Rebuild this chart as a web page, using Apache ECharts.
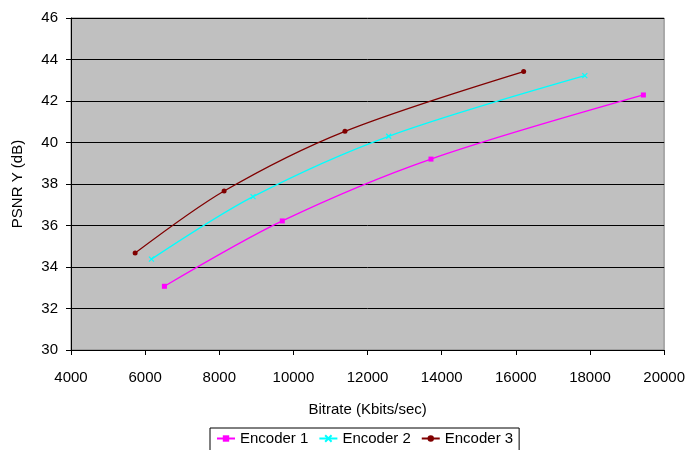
<!DOCTYPE html>
<html><head><meta charset="utf-8">
<script src="https://cdn.jsdelivr.net/npm/echarts@6/dist/echarts.min.js"></script>
<style>html,body{margin:0;padding:0;background:#fff}#c{width:688px;height:450px}</style>
</head><body><div id="c"></div>
<script>
const seriesNames = ['Encoder 1', 'Encoder 2', 'Encoder 3'];
const encoder1 = [[6520, 33.07], [9700, 36.22], [13710, 39.20], [19440, 42.29]];
const encoder2 = [[6170, 34.38], [8910, 37.39], [12570, 40.30], [17860, 43.22]];
const encoder3 = [[5730, 34.67], [8130, 37.66], [11390, 40.54], [16210, 43.42]];
const xTicks = {min: 4000, max: 20000, interval: 2000};
const yTicks = {min: 30, max: 46, interval: 2};

const colors = ['#FF00FF', '#00FFFF', '#800000'];
const crossPath = 'path://M0,0L10,10M10,0L0,10';
const font = 'Liberation Sans, Arial, sans-serif';
const chart = echarts.init(document.getElementById('c'));
chart.setOption({
  animation: false,
  grid: {left: 71, right: 20, top: 18, bottom: 100, show: true, backgroundColor: '#C0C0C0', borderColor: '#808080', borderWidth: 1},
  legend: {
    bottom: -2, left: 210, itemWidth: 18, itemHeight: 8, itemGap: 10,
    borderColor: '#000', borderWidth: 1, padding: [3, 6, 6, 6],
    textStyle: {fontFamily: font, fontSize: 15, color: '#000'},
    data: seriesNames
  },
  xAxis: {
    type: 'value', min: xTicks.min, max: xTicks.max, interval: xTicks.interval,
    name: 'Bitrate (Kbits/sec)', nameLocation: 'middle', nameGap: 52,
    nameTextStyle: {fontFamily: font, fontSize: 15, color: '#000'},
    axisLine: {show: true, lineStyle: {color: '#000'}},
    axisTick: {show: true, length: 5, lineStyle: {color: '#000'}},
    axisLabel: {fontFamily: font, fontSize: 15, color: '#000', margin: 20, formatter: v => String(v)},
    splitLine: {show: false}
  },
  yAxis: {
    type: 'value', min: yTicks.min, max: yTicks.max, interval: yTicks.interval,
    name: 'PSNR Y (dB)', nameLocation: 'middle', nameGap: 46, nameRotate: 90,
    nameTextStyle: {fontFamily: font, fontSize: 15, color: '#000'},
    axisLine: {show: true, lineStyle: {color: '#000'}},
    axisTick: {show: true, length: 5, lineStyle: {color: '#000'}},
    axisLabel: {fontFamily: font, fontSize: 15, color: '#000', margin: 13},
    splitLine: {show: true, lineStyle: {color: '#000', width: 1}}
  },
  series: [
    {name: seriesNames[0], type: 'line', data: encoder1, smooth: 0.3, symbol: 'rect', symbolSize: 5,
     itemStyle: {color: colors[0]}, lineStyle: {color: colors[0], width: 1.3}},
    {name: seriesNames[1], type: 'line', data: encoder2, smooth: 0.3, symbol: crossPath, symbolSize: 5,
     itemStyle: {color: colors[1], borderColor: colors[1], borderWidth: 1.2}, lineStyle: {color: colors[1], width: 1.3}},
    {name: seriesNames[2], type: 'line', data: encoder3, smooth: 0.3, symbol: 'circle', symbolSize: 5,
     itemStyle: {color: colors[2]}, lineStyle: {color: colors[2], width: 1.3}}
  ]
});
</script></body></html>
